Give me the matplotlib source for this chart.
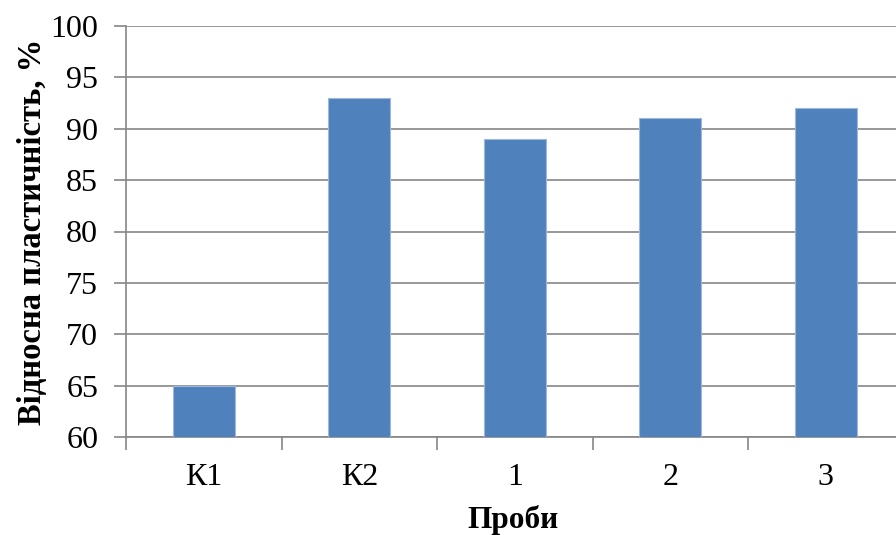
import matplotlib
matplotlib.use("Agg")
import matplotlib.pyplot as plt
from matplotlib.ticker import FixedLocator, NullFormatter

categories = ["К1", "К2", "1", "2", "3"]
values = [65, 93, 89, 91, 92]
y_ticks = [60, 65, 70, 75, 80, 85, 90, 95, 100]

plt.rcParams["font.family"] = ["Liberation Serif", "DejaVu Serif"]

W, H = 896, 535
fig = plt.figure(figsize=(W / 100, H / 100), dpi=100)

# plot area in pixels: left 126, right ~903 (runs past the canvas edge), top 26, bottom 437
left, right, top, bottom = 126, 903.5, 26, 437
ax = fig.add_axes([left / W, 1 - bottom / H, (right - left) / W, (bottom - top) / H])

x = range(len(categories))
ax.bar(x, values, width=0.4, color="#4F81BD", edgecolor="#9DB8DC", linewidth=0.8, zorder=3)

ax.set_xlim(-0.5, len(categories) - 0.5)
ax.set_ylim(60, 100)
ax.set_yticks(y_ticks)
ax.yaxis.grid(True, color="#868686", linewidth=1.2, zorder=0)
ax.set_axisbelow(True)

ax.set_xticks(list(x))
ax.set_xticklabels(categories)
ax.xaxis.set_minor_locator(FixedLocator([i - 0.5 for i in range(len(categories) + 1)]))
ax.xaxis.set_minor_formatter(NullFormatter())
ax.tick_params(axis="x", which="major", length=0, pad=19, labelsize=23)
ax.tick_params(axis="x", which="minor", length=9, width=1.2, color="#868686")
ax.tick_params(axis="y", length=9, width=1.2, color="#868686", pad=11, labelsize=23)

for side in ("top", "right"):
    ax.spines[side].set_visible(False)
for side in ("left", "bottom"):
    ax.spines[side].set_color("#868686")
    ax.spines[side].set_linewidth(1.2)

ax.set_xlabel("Проби", fontsize=22.5, fontweight="bold")
ax.set_ylabel("Відносна пластичність, %", fontsize=23.5, fontweight="bold")
ax.xaxis.set_label_coords((513 - left) / (right - left), -(505 - bottom) / (bottom - top))
ax.yaxis.set_label_coords(-(126 - 48) / (right - left), 0.5)

fig.savefig("out.png", dpi=100)
